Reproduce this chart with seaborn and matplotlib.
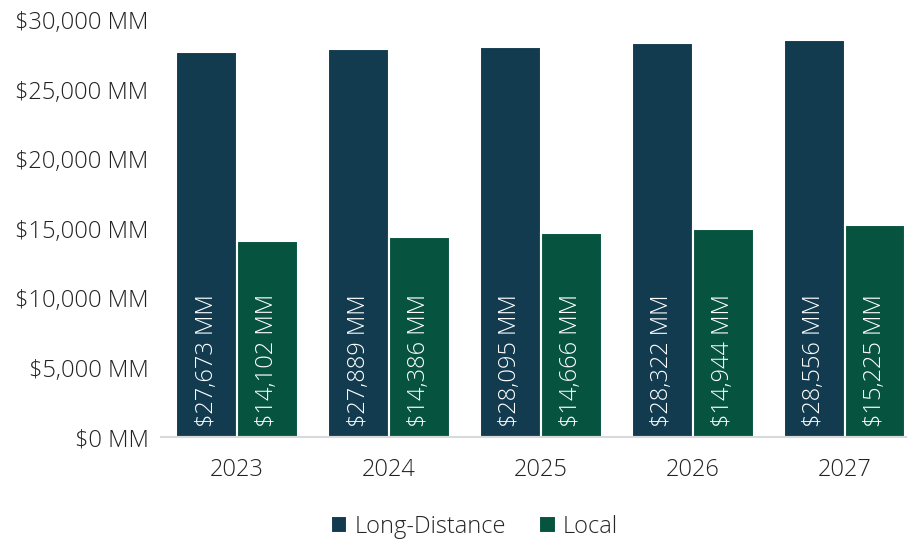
import matplotlib
matplotlib.use("Agg")
import matplotlib.pyplot as plt
import seaborn as sns
import pandas as pd
from matplotlib.ticker import FuncFormatter

years = ["2023", "2024", "2025", "2026", "2027"]
long_distance = [27673, 27889, 28095, 28322, 28556]
local = [14102, 14386, 14666, 14944, 15225]
series_names = ["Long-Distance", "Local"]
colors = ["#123B4F", "#06533F"]
y_ticks = [0, 5000, 10000, 15000, 20000, 25000, 30000]

df = pd.DataFrame({
    "Year": years * 2,
    "Segment": [series_names[0]] * len(years) + [series_names[1]] * len(years),
    "Value": long_distance + local,
})

sns.set_theme(style="white")
plt.rcParams["font.family"] = ["Open Sans", "DejaVu Sans"]
plt.rcParams["font.weight"] = "light"

FS = 17
fig = plt.figure(figsize=(9.07, 5.42), dpi=100)
ax = fig.add_axes([0.1775, 0.1937, 0.8225, 0.7693])

sns.barplot(data=df, x="Year", y="Value", hue="Segment", order=years,
            hue_order=series_names, palette=colors, width=0.8,
            edgecolor="white", linewidth=1.5, saturation=1, ax=ax)

ax.set_ylim(0, 30000)
ax.set_xlim(-0.5, 4.41)
ax.set_yticks(y_ticks)
ax.yaxis.set_major_formatter(FuncFormatter(lambda v, p: f"${v:,.0f} MM"))
ax.tick_params(axis="y", length=0, pad=9, labelsize=FS, labelcolor="#222222")
ax.tick_params(axis="x", length=0, pad=15, labelsize=FS, labelcolor="#222222")
ax.set_xlabel("")
ax.set_ylabel("")
for side in ["left", "right", "top"]:
    ax.spines[side].set_visible(False)
ax.spines["bottom"].set_color("#D9D9D9")
ax.spines["bottom"].set_linewidth(1.5)

# value labels written upward from the base of each bar
for container in ax.containers:
    for bar in container:
        h = bar.get_height()
        ax.annotate(f"${h:,.0f} MM",
                    xy=(bar.get_x() + bar.get_width() / 2, 0),
                    xytext=(0, 7), textcoords="offset points",
                    rotation=90, ha="center", va="bottom",
                    color="white", fontsize=FS)

handles, labels = ax.get_legend_handles_labels()
ax.legend(handles, labels, loc="center", bbox_to_anchor=(0.42, -0.215),
          ncol=2, frameon=False, fontsize=FS, handlelength=0.7,
          handleheight=0.7, handletextpad=0.3, columnspacing=1.4)

fig.savefig("out.png", dpi=100)
